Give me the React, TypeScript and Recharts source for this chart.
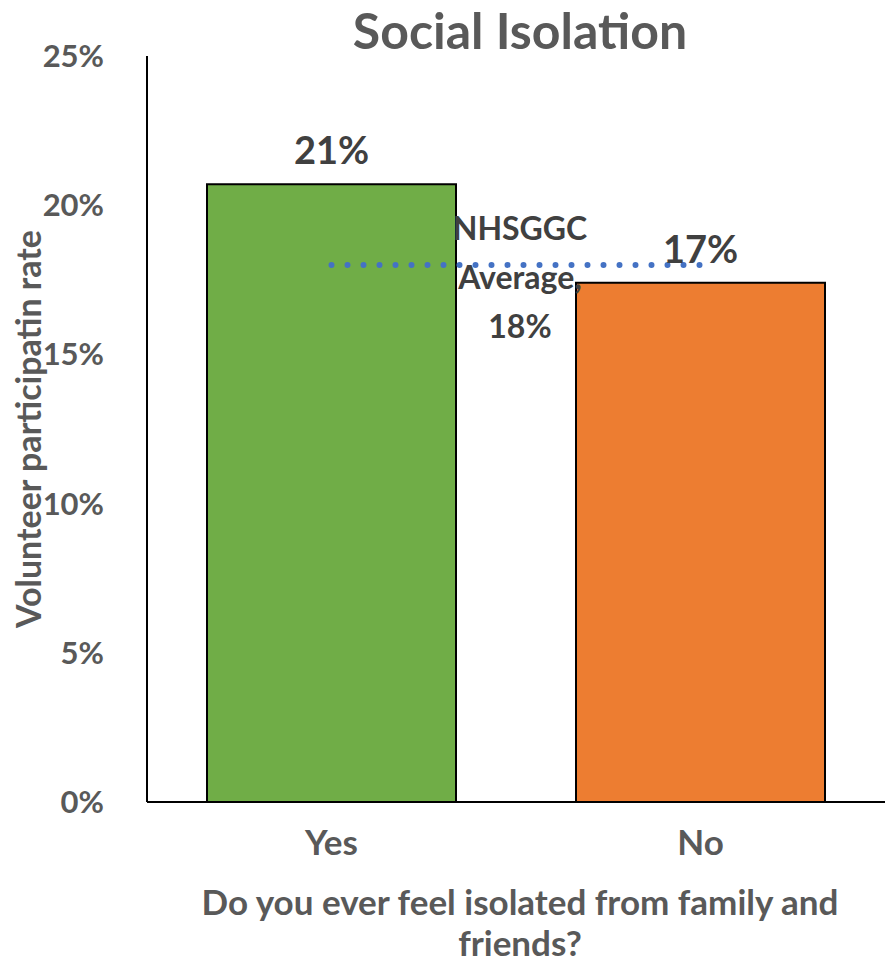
import { BarChart, Bar, XAxis, YAxis, Cell, LabelList, ReferenceLine, Label } from 'recharts'

const categories = ['Yes', 'No']
const rates = [0.207, 0.174]
const barColors = ['#70AD47', '#ED7D31']
const averageRate = 0.18
const averageLines = ['NHSGGC', 'Average,', '18%']
const yTicks = [0, 0.05, 0.1, 0.15, 0.2, 0.25]
const xTitleLines = ['Do you ever feel isolated from family and', 'friends?']

const data = categories.map((name, i) => ({ name, value: rates[i] }))

const FONT = 'Lato, "Liberation Sans", sans-serif'
const pct = (v: number) => `${Math.round(v * 100)}%`

const renderAverage = (props: any) => {
	const { viewBox } = props
	const cx = viewBox.x + viewBox.width / 2 + 4
	const cy = viewBox.y
	return (
		<text x={cx} y={cy} textAnchor="middle" fill="#404040" fontFamily={FONT} fontWeight={700} fontSize={32}>
			<tspan x={cx} dy={-25}>{averageLines[0]}</tspan>
			<tspan x={cx} dy={49}>{averageLines[1]}</tspan>
			<tspan x={cx} dy={49}>{averageLines[2]}</tspan>
		</text>
	)
}

const renderXTitle = (props: any) => {
	const { viewBox } = props
	const cx = viewBox.x + viewBox.width / 2 + 4
	return (
		<text x={cx} y={viewBox.y} textAnchor="middle" fill="#595959" fontFamily={FONT} fontWeight={700} fontSize={35}>
			<tspan x={cx} dy={113}>{xTitleLines[0]}</tspan>
			<tspan x={cx} dy={41}>{xTitleLines[1]}</tspan>
		</text>
	)
}

const renderYTitle = (props: any) => {
	const { viewBox } = props
	const cy = viewBox.y + viewBox.height / 2
	return (
		<text x={27} y={cy} transform={`rotate(-90, 27, ${cy})`} textAnchor="middle" dominantBaseline="central"
			fill="#595959" fontFamily={FONT} fontWeight={700} fontSize={34}>
			Volunteer participatin rate
		</text>
	)
}

export default function App() {
	return (
		<div style={{ position: 'absolute', left: 0, top: 0, width: 885, height: 964, background: '#fff' }}>
			<div style={{ position: 'absolute', left: 0, right: 0, top: 0, textAlign: 'center', paddingLeft: 155,
				fontFamily: FONT, fontWeight: 700, fontSize: 50, color: '#595959' }}>
				Social Isolation
			</div>
			<BarChart width={885} height={964} data={data} margin={{ top: 56, right: 0, left: 0, bottom: 0 }} barCategoryGap={60}>
				<XAxis dataKey="name" height={162} axisLine={{ stroke: '#000', strokeWidth: 2 }} tickLine={false} tickMargin={22}
					tick={{ fill: '#595959', fontFamily: FONT, fontWeight: 700, fontSize: 35 }}>
					<Label content={renderXTitle} />
				</XAxis>
				<YAxis width={147} domain={[0, 0.25]} ticks={yTicks} tickFormatter={pct} axisLine={{ stroke: '#000', strokeWidth: 2 }}
					tickLine={false} tickMargin={37} tick={{ fill: '#595959', fontFamily: FONT, fontWeight: 700, fontSize: 31 }}>
					<Label content={renderYTitle} />
				</YAxis>
				<Bar dataKey="value" stroke="#000" strokeWidth={2} isAnimationActive={false}>
					{data.map((d, i) => (
						<Cell key={d.name} fill={barColors[i]} />
					))}
					<LabelList dataKey="value" position="top" offset={20} formatter={(v: any) => pct(v)}
						fill="#404040" fontFamily={FONT} fontWeight={700} fontSize={38} />
				</Bar>
				<ReferenceLine segment={[{ x: 'Yes', y: averageRate }, { x: 'No', y: averageRate }]} stroke="#4472C4"
					strokeWidth={6} strokeDasharray="0 16" strokeLinecap="round" label={renderAverage} />
			</BarChart>
		</div>
	)
}
